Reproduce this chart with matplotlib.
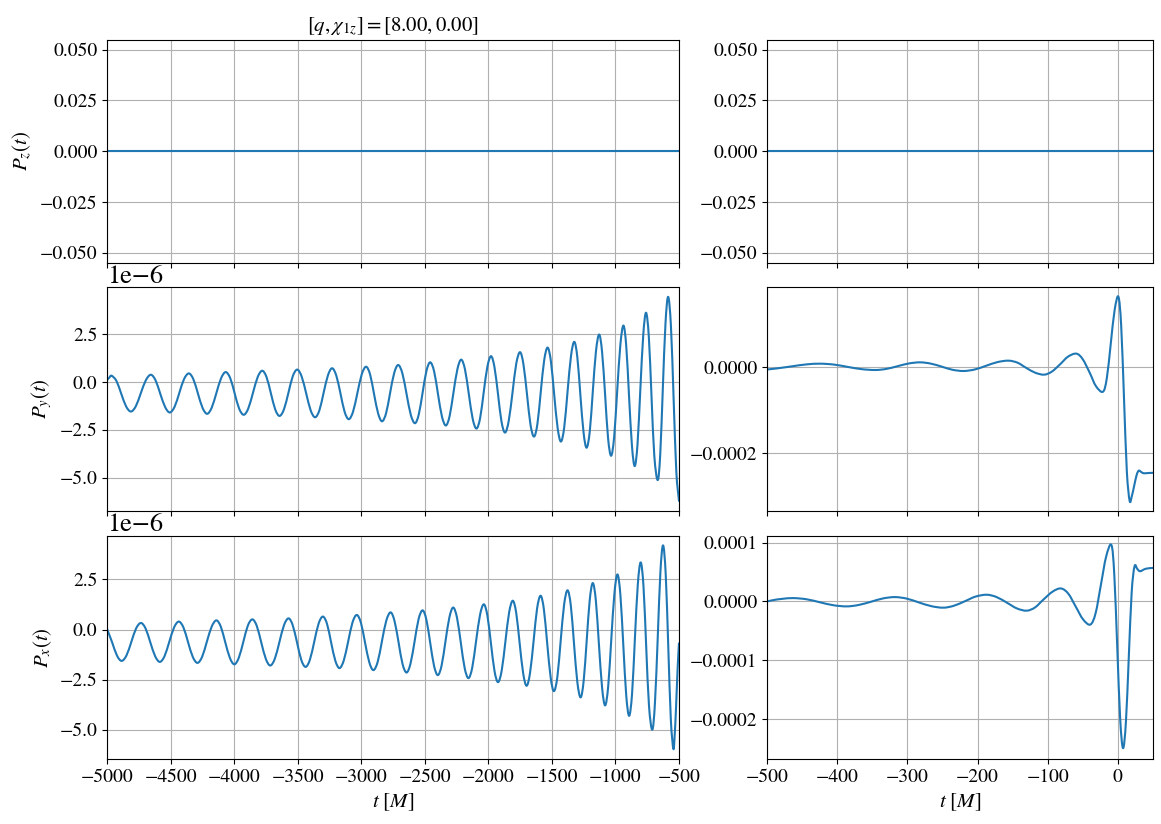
import numpy as np
import matplotlib
matplotlib.use("Agg")
import matplotlib.pyplot as plt
from matplotlib.ticker import MultipleLocator
from matplotlib.path import Path
from matplotlib.patches import PathPatch

plt.rcParams['font.family'] = ['STIXGeneral', 'DejaVu Sans']
plt.rcParams['mathtext.fontset'] = 'stix'

# ---------------- data (values of P_y, P_x in units of 1e-6) ----------------
title_text = r'$[q,\chi_{1z}]=[8.00, 0.00]$'
scale = 1e-6

left_pz_t = [-5000, -500]
left_pz_v = [0.0, 0.0]
right_pz_t = [-500, 50]
right_pz_v = [0.0, 0.0]

left_py_t = [-5000, -4983, -4966,
             -4928, -4890, -4852, -4814, -4775, -4736, -4696, -4657,
             -4620, -4583, -4545, -4508, -4470, -4433, -4396, -4358,
             -4322, -4286, -4250, -4214, -4178, -4141, -4104, -4068,
             -4032, -3997, -3962, -3926, -3890, -3853, -3816, -3780,
             -3746, -3712, -3678, -3644, -3609, -3574, -3540, -3505,
             -3470, -3434, -3399, -3364, -3330, -3297, -3263, -3230,
             -3197, -3164, -3132, -3099, -3065, -3031, -2997, -2963,
             -2931, -2900, -2868, -2837, -2805, -2774, -2742, -2710,
             -2677, -2644, -2611, -2578, -2548, -2518, -2488, -2458,
             -2427, -2397, -2366, -2335, -2305, -2275, -2244, -2214,
             -2184, -2154, -2124, -2094, -2065, -2037, -2008, -1979,
             -1952, -1924, -1897, -1869, -1840, -1810, -1781, -1751,
             -1724, -1696, -1669, -1641, -1614, -1588, -1561, -1534,
             -1508, -1482, -1455, -1429, -1403, -1377, -1350, -1324,
             -1300, -1276, -1251, -1227, -1202, -1178, -1153, -1128,
             -1105, -1081, -1058, -1034, -1010, -986, -961, -937,
             -915, -893, -870, -848, -826, -804, -781, -759,
             -737, -716, -694, -667, -647, -627, -606, -585,
             -563, -542, -521, -500]
left_py_v = [0.12, 0.24, 0.33,
             0.06, -0.61, -1.27, -1.54, -1.26, -0.58, 0.10, 0.38,
             0.09, -0.61, -1.30, -1.59, -1.29, -0.57, 0.15, 0.45,
             0.14, -0.61, -1.35, -1.66, -1.34, -0.57, 0.20, 0.52,
             0.20, -0.60, -1.39, -1.71, -1.38, -0.56, 0.26, 0.59,
             0.25, -0.59, -1.43, -1.77, -1.42, -0.56, 0.30, 0.65,
             0.29, -0.60, -1.48, -1.84, -1.47, -0.56, 0.35, 0.72,
             0.33, -0.61, -1.55, -1.94, -1.54, -0.57, 0.40, 0.80,
             0.39, -0.63, -1.64, -2.05, -1.62, -0.58, 0.46, 0.89,
             0.45, -0.63, -1.71, -2.15, -1.69, -0.56, 0.57, 1.03,
             0.55, -0.62, -1.79, -2.27, -1.77, -0.55, 0.67, 1.17,
             0.65, -0.63, -1.91, -2.43, -1.88, -0.54, 0.80, 1.35,
             0.77, -0.65, -2.06, -2.64, -2.03, -0.54, 0.95, 1.56,
             0.92, -0.65, -2.21, -2.85, -2.18, -0.53, 1.13, 1.80,
             1.09, -0.66, -2.40, -3.11, -2.36, -0.51, 1.35, 2.10,
             1.30, -0.67, -2.63, -3.43, -2.58, -0.48, 1.62, 2.48,
             1.56, -0.69, -2.93, -3.85, -2.86, -0.45, 1.96, 2.95,
             1.89, -0.72, -3.33, -4.39, -3.23, -0.39, 2.46, 3.62,
             2.35, -0.75, -3.85, -5.12, -3.73, -0.34, 3.06, 4.45,
             2.91, -0.87, -4.65, -6.19]

left_px_t = [-5000, -4962, -4924, -4887,
             -4849, -4811, -4773, -4735, -4698, -4661, -4623, -4586,
             -4549, -4512, -4474, -4437, -4400, -4364, -4327, -4290,
             -4253, -4216, -4178, -4141, -4106, -4071, -4035, -4000,
             -3965, -3929, -3894, -3858, -3823, -3788, -3752, -3717,
             -3681, -3645, -3609, -3573, -3540, -3506, -3473, -3439,
             -3405, -3371, -3337, -3303, -3270, -3238, -3205, -3172,
             -3138, -3104, -3070, -3036, -3003, -2971, -2938, -2905,
             -2871, -2838, -2804, -2770, -2739, -2707, -2676, -2644,
             -2613, -2581, -2550, -2518, -2488, -2458, -2428, -2398,
             -2368, -2338, -2307, -2277, -2247, -2217, -2187, -2157,
             -2127, -2097, -2066, -2036, -2008, -1980, -1952, -1924,
             -1895, -1866, -1837, -1808, -1781, -1754, -1726, -1699,
             -1672, -1644, -1617, -1589, -1563, -1537, -1510, -1484,
             -1457, -1431, -1404, -1377, -1351, -1326, -1300, -1274,
             -1250, -1226, -1202, -1178, -1154, -1130, -1105, -1081,
             -1057, -1033, -1008, -984, -961, -938, -915, -892,
             -869, -847, -824, -801, -779, -758, -736, -710,
             -689, -667, -646, -625, -604, -584, -564, -544,
             -534, -523, -511, -500]
left_px_v = [0.00, -0.63, -1.29, -1.56,
             -1.29, -0.62, 0.06, 0.33, 0.05, -0.64, -1.33, -1.61,
             -1.32, -0.61, 0.11, 0.40, 0.10, -0.63, -1.36, -1.66,
             -1.35, -0.60, 0.15, 0.46, 0.14, -0.64, -1.41, -1.73,
             -1.41, -0.61, 0.19, 0.51, 0.18, -0.64, -1.46, -1.79,
             -1.45, -0.62, 0.22, 0.56, 0.21, -0.65, -1.51, -1.86,
             -1.50, -0.61, 0.29, 0.65, 0.28, -0.64, -1.55, -1.92,
             -1.53, -0.60, 0.35, 0.73, 0.33, -0.65, -1.62, -2.02,
             -1.60, -0.58, 0.44, 0.86, 0.43, -0.64, -1.71, -2.14,
             -1.69, -0.59, 0.51, 0.96, 0.49, -0.66, -1.80, -2.27,
             -1.78, -0.59, 0.61, 1.10, 0.59, -0.66, -1.91, -2.42,
             -1.89, -0.58, 0.73, 1.26, 0.70, -0.68, -2.06, -2.62,
             -2.03, -0.59, 0.85, 1.44, 0.83, -0.68, -2.19, -2.80,
             -2.15, -0.56, 1.04, 1.69, 1.00, -0.69, -2.38, -3.07,
             -2.35, -0.56, 1.24, 1.96, 1.19, -0.71, -2.61, -3.38,
             -2.55, -0.53, 1.49, 2.32, 1.44, -0.73, -2.90, -3.78,
             -2.83, -0.52, 1.80, 2.75, 1.73, -0.78, -3.28, -4.30,
             -3.19, -0.48, 2.24, 3.35, 2.14, -0.82, -3.78, -4.99,
             -3.66, -0.40, 2.87, 4.20, 2.73, -0.87, -4.47, -5.94,
             -5.30, -3.90, -2.00, -0.70]

right_py_t = [-500, -485, -465, -445, -425,
              -405, -386, -366, -346, -330, -314, -298, -282,
              -267, -251, -236, -220, -204, -188, -172, -156,
              -143, -131, -118, -105, -94, -82, -71, -59,
              -50, -40, -31, -21, -15.5, -10, -4.5, 1,
              5, 9, 13, 17, 20, 23.5, 27, 30,
              33.5, 37, 43, 50]
right_py_v = [-5.0, -2.2, 2.3, 6.7, 8.5,
              6.4, 1.2, -4.1, -6.2, -3.6, 2.7, 9.0, 11.6,
              8.7, 1.6, -5.6, -8.5, -5.0, 3.5, 12.0, 15.5,
              10.8, -0.8, -12.3, -17.0, -9.9, 7.4, 24.7, 31.8,
              19.0, -12.4, -43.8, -56.6, -24.6, 53.7, 132.0, 164.0,
              95.0, -73.0, -241.0, -310.0, -300.0, -275.0, -250.0, -240.0,
              -243.0, -246.0, -245.5, -245.0]

right_px_t = [-500, -490, -478, -463,
              -444, -425, -406, -387, -370, -352, -335, -318,
              -301, -284, -266, -249, -234, -218, -203, -187,
              -173, -158, -144, -130, -118, -106, -93, -81,
              -70.5, -60, -49.5, -39, -31.5, -24, -16.5, -9,
              -4.9, -0.7, 3.5, 7.6, 11.7, 15.8, 19.9, 24,
              28, 32, 40, 50]
right_px_v = [0.0, 2.5, 4.4, 5.6,
              3.6, -1.5, -6.5, -8.5, -6.2, -0.6, 5.0, 7.3,
              4.7, -1.7, -8.1, -10.7, -7.5, 0.3, 8.1, 11.3,
              7.4, -2.3, -11.9, -15.8, -10.3, 3.1, 16.5, 22.0,
              13.1, -8.7, -30.5, -39.4, -19.8, 28.2, 76.2, 95.8,
              45.7, -76.9, -199.5, -249.6, -205.0, -95.0, 15.0, 59.7,
              55.0, 51.3, 55.5, 56.9]

ylabels = [r'$P_z(t)$', r'$P_y(t)$', r'$P_x(t)$']
xlabel = r'$t\ [M]$'


def smooth_line(ax, t, v, **kw):
    """Draw a smooth (Catmull-Rom/Bezier) line through the given points."""
    p = np.column_stack([np.asarray(t, float), np.asarray(v, float)])
    n = len(p)
    if n < 3:
        ax.plot(p[:, 0], p[:, 1], **kw)
        return
    ext = np.vstack([p[0], p, p[-1]])
    verts = [p[0]]
    codes = [Path.MOVETO]
    for i in range(n - 1):
        p0, p1, p2, p3 = ext[i], ext[i + 1], ext[i + 2], ext[i + 3]
        c1 = p1 + (p2 - p0) / 6.0
        c2 = p2 - (p3 - p1) / 6.0
        verts += [c1, c2, p2]
        codes += [Path.CURVE4] * 3
    patch = PathPatch(Path(np.array(verts), codes), fill=False,
                      edgecolor=kw.get('color'), lw=kw.get('lw', 1.5),
                      capstyle='projecting', joinstyle='round', zorder=2)
    ax.add_patch(patch)


# ---------------- figure ----------------
fig = plt.figure(figsize=(11.61, 8.24), dpi=100)
L, WL = 0.0924, 0.4924
R, WR = 0.6609, 0.3320
H = 0.2712
bottoms = [0.6808, 0.3802, 0.0789]

color = '#1f77b4'
tick_fs = 14
lab_fs = 15

left_data = [(left_pz_t, np.array(left_pz_v)),
             (left_py_t, np.array(left_py_v) * scale),
             (left_px_t, np.array(left_px_v) * scale)]
right_data = [(right_pz_t, np.array(right_pz_v)),
              (right_py_t, np.array(right_py_v) * scale),
              (right_px_t, np.array(right_px_v) * scale)]
left_ylims = [(-0.055, 0.055), (-6.72e-6, 4.95e-6), (-6.45e-6, 4.69e-6)]
right_ylims = [(-0.055, 0.055), (-3.33e-4, 1.86e-4), (-2.68e-4, 1.12e-4)]

left_axes, right_axes = [], []
for i in range(3):
    axl = fig.add_axes([L, bottoms[i], WL, H],
                       sharex=left_axes[0] if left_axes else None)
    axr = fig.add_axes([R, bottoms[i], WR, H],
                       sharex=right_axes[0] if right_axes else None)
    left_axes.append(axl)
    right_axes.append(axr)

    smooth_line(axl, *left_data[i], color=color, lw=1.5)
    smooth_line(axr, *right_data[i], color=color, lw=1.5)
    axl.set_ylim(*left_ylims[i])
    axr.set_ylim(*right_ylims[i])
    for ax in (axl, axr):
        ax.grid(True)
        ax.tick_params(labelsize=tick_fs)
        ax.yaxis.get_offset_text().set_fontsize(19)
    axl.set_ylabel(ylabels[i], fontsize=lab_fs)
    if i < 2:
        axl.tick_params(labelbottom=False)
        axr.tick_params(labelbottom=False)

for ax in left_axes:
    ax.set_xlim(-5000, -500)
    ax.xaxis.set_major_locator(MultipleLocator(500))
for ax in right_axes:
    ax.set_xlim(-500, 50)
    ax.xaxis.set_major_locator(MultipleLocator(100))

left_axes[0].yaxis.set_major_locator(MultipleLocator(0.025))
right_axes[0].yaxis.set_major_locator(MultipleLocator(0.025))
left_axes[1].yaxis.set_major_locator(MultipleLocator(2.5e-6))
left_axes[2].yaxis.set_major_locator(MultipleLocator(2.5e-6))
right_axes[1].yaxis.set_major_locator(MultipleLocator(2e-4))
right_axes[2].yaxis.set_major_locator(MultipleLocator(1e-4))

left_axes[0].set_title(title_text, fontsize=lab_fs)
left_axes[2].set_xlabel(xlabel, fontsize=lab_fs)
right_axes[2].set_xlabel(xlabel, fontsize=lab_fs)

fig.savefig('out.png', dpi=100)
